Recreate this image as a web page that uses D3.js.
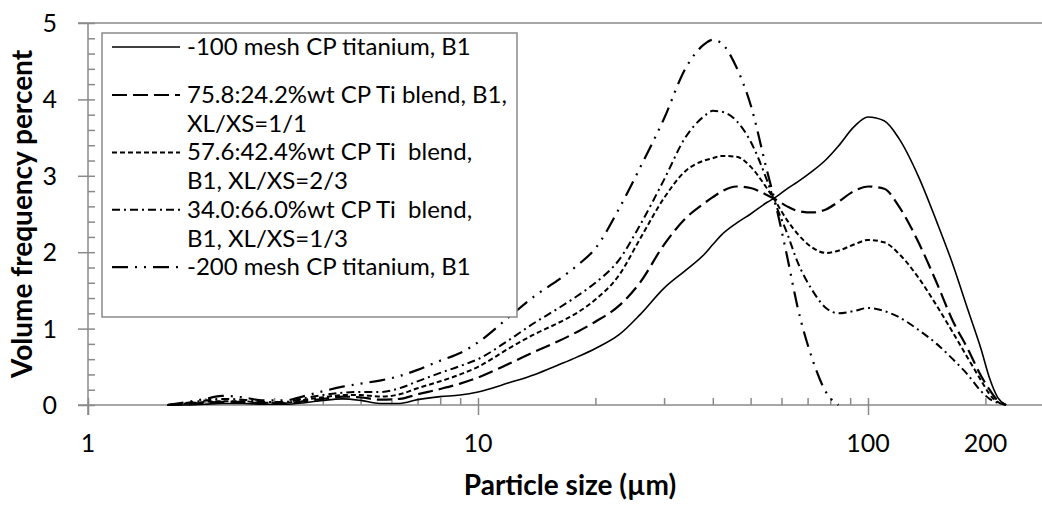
<!DOCTYPE html>
<html>
<head>
<meta charset="utf-8">
<script src="https://cdn.jsdelivr.net/npm/d3@7"></script>
<style>
  body { margin: 0; background: #fff; }
  svg { display: block; }
  text { font-family: Lato, "Open Sans", sans-serif; fill: #000; }
</style>
</head>
<body>
<svg id="chart" width="1042" height="508"></svg>
<script>
// Particle size bins (µm), shared by all distributions
const sizes = [1.6, 1.8, 2, 2.2, 2.5, 2.8, 3.2, 3.6, 4, 4.5,
  5, 5.6, 6.3, 7, 8, 9, 10, 12, 14, 16,
  18, 20, 23, 26, 30, 34, 38, 40, 42, 46,
  50, 55, 58, 62, 66, 72, 78, 84, 92, 100,
  110, 120, 135, 150, 165, 180, 195, 205, 215, 226];

// Volume frequency (%) per bin
const mesh100 = [0, 0, 0.01, 0.02, 0.02, 0.01, 0.01, 0.03, 0.06, 0.08,
  0.06, 0.02, 0.02, 0.07, 0.11, 0.13, 0.17, 0.29, 0.40, 0.52,
  0.63, 0.74, 0.92, 1.18, 1.53, 1.76, 1.97, 2.10, 2.22, 2.38,
  2.50, 2.65, 2.72, 2.83, 2.92, 3.06, 3.21, 3.39, 3.64, 3.77,
  3.72, 3.49, 2.98, 2.40, 1.84, 1.26, 0.73, 0.35, 0.10, 0];
const blend758 = [0, 0.01, 0.03, 0.04, 0.04, 0.02, 0.02, 0.05, 0.08, 0.11,
  0.10, 0.07, 0.08, 0.14, 0.21, 0.28, 0.36, 0.54, 0.70, 0.83,
  0.96, 1.09, 1.30, 1.60, 2.10, 2.44, 2.64, 2.72, 2.79, 2.86,
  2.84, 2.75, 2.69, 2.60, 2.54, 2.52, 2.56, 2.66, 2.80, 2.86,
  2.83, 2.60, 2.12, 1.60, 1.10, 0.74, 0.38, 0.20, 0.06, 0];
const blend576 = [0, 0.02, 0.04, 0.05, 0.05, 0.03, 0.03, 0.07, 0.10, 0.13,
  0.13, 0.11, 0.14, 0.22, 0.31, 0.40, 0.50, 0.74, 0.93, 1.07,
  1.21, 1.38, 1.70, 2.17, 2.71, 3.06, 3.20, 3.23, 3.26, 3.25,
  3.12, 2.84, 2.66, 2.42, 2.24, 2.06, 1.99, 2.02, 2.10, 2.16,
  2.13, 1.98, 1.66, 1.30, 0.95, 0.62, 0.32, 0.14, 0.04, 0];
const blend340 = [0, 0.03, 0.06, 0.08, 0.07, 0.04, 0.04, 0.09, 0.13, 0.16,
  0.17, 0.17, 0.22, 0.31, 0.42, 0.51, 0.60, 0.85, 1.08, 1.26,
  1.43, 1.60, 1.90, 2.35, 2.95, 3.50, 3.78, 3.85, 3.84, 3.72,
  3.45, 2.95, 2.62, 2.25, 1.87, 1.50, 1.27, 1.20, 1.23, 1.27,
  1.23, 1.15, 0.98, 0.80, 0.60, 0.40, 0.18, 0.08, 0.03, 0];
const mesh200 = [0, 0.04, 0.08, 0.12, 0.10, 0.06, 0.06, 0.12, 0.18, 0.24,
  0.28, 0.32, 0.38, 0.46, 0.58, 0.68, 0.82, 1.15, 1.43, 1.63,
  1.83, 2.05, 2.57, 3.10, 3.75, 4.40, 4.72, 4.78, 4.74, 4.42,
  3.93, 3.08, 2.62, 1.95, 1.28, 0.60, 0.17, 0, null, null,
  null, null, null, null, null, null, null, null, null, null];

// Legend text, one array of lines per series
const legendLabels = [
  ["-100 mesh CP titanium, B1"],
  ["75.8:24.2%wt CP Ti blend, B1,", "XL/XS=1/1"],
  ["57.6:42.4%wt CP Ti  blend,", "B1, XL/XS=2/3"],
  ["34.0:66.0%wt CP Ti  blend,", "B1, XL/XS=1/3"],
  ["-200 mesh CP titanium, B1"]
];

const xTickValues = [1, 10, 100, 200];
const yTickValues = [0, 1, 2, 3, 4, 5];
const xTitle = "Particle size (µm)";
const yTitle = "Volume frequency percent";

// Line styles for each series
const styles = [
  { width: 1.6, dash: null },
  { width: 2.2, dash: "15,6" },
  { width: 2.0, dash: "5,3" },
  { width: 2.0, dash: "8,4,2,4" },
  { width: 2.2, dash: "16,7,2,7,2,7" }
];
const seriesValues = [mesh100, blend758, blend576, blend340, mesh200];

(function draw() {
  const svg = d3.select("#chart");
  const W = 1042;
  const plotLeft = 88, plotTop = 23, plotBottom = 405, decade = 390;

  const x = d3.scaleLog().domain([1, 1000]).range([plotLeft, plotLeft + 3 * decade]);
  const y = d3.scaleLinear().domain([0, 5]).range([plotBottom, plotTop]);

  const axisColor = "#8a8a8a";

  // Top border of the plot area
  svg.append("line").attr("x1", plotLeft - 10).attr("x2", W).attr("y1", y(5)).attr("y2", y(5))
    .attr("stroke", axisColor).attr("stroke-width", 1.5);

  // y-axis with outer major ticks and inner minor ticks
  const yAxis = svg.append("g").attr("transform", `translate(${plotLeft},0)`)
    .call(d3.axisLeft(y).tickValues(yTickValues).tickSize(10).tickSizeOuter(0).tickFormat(""));
  const yMinor = svg.append("g").attr("transform", `translate(${plotLeft},0)`)
    .call(d3.axisRight(y).tickValues(d3.range(0, 5.001, 0.2)).tickSize(7).tickSizeOuter(0).tickFormat(""));

  // x-axis: major ticks below, minor ticks inside the plot
  const minorX = [];
  [1, 10, 100].forEach(d => { for (let k = 1; k <= 9; k++) minorX.push(d * k); });
  minorX.push(1000);
  const xAxis = svg.append("g").attr("transform", `translate(0,${plotBottom})`)
    .call(d3.axisBottom(x).tickValues([1, 10, 100]).tickSize(10).tickSizeOuter(0).tickFormat(""));
  const xMinor = svg.append("g").attr("transform", `translate(0,${plotBottom})`)
    .call(d3.axisTop(x).tickValues(minorX).tickSize(7).tickSizeOuter(0).tickFormat(""));

  [yAxis, yMinor, xAxis, xMinor].forEach(g => {
    g.selectAll("path,line").attr("stroke", axisColor).attr("stroke-width", 1.5);
  });
  xAxis.select("path").attr("d", `M${plotLeft - 10},0H${W}`);
  xMinor.select("path").remove();
  yMinor.select("path").remove();
  yAxis.select("path").attr("d", `M0,${y(5)}V${plotBottom + 10}`);

  // Tick labels
  svg.append("g").selectAll("text").data(yTickValues).join("text")
    .attr("x", 57).attr("y", d => y(d) + 9)
    .attr("text-anchor", "end").attr("font-size", 25).text(d => d);
  svg.append("g").selectAll("text").data(xTickValues).join("text")
    .attr("x", d => x(d)).attr("y", 452)
    .attr("text-anchor", "middle").attr("font-size", 25).text(d => d);

  // Axis titles
  svg.append("text").attr("x", 570).attr("y", 495).attr("text-anchor", "middle")
    .attr("font-size", 28).attr("font-weight", "bold").text(xTitle);
  svg.append("text").attr("transform", `translate(32,214) rotate(-90)`)
    .attr("text-anchor", "middle").attr("font-size", 28).attr("font-weight", "bold").text(yTitle);

  // Distribution curves
  const line = d3.line()
    .defined(d => d[1] !== null)
    .x(d => x(d[0])).y(d => y(d[1]))
    .curve(d3.curveMonotoneX);

  svg.append("g").selectAll("path").data(seriesValues).join("path")
    .attr("d", vals => line(sizes.map((s, i) => [s, vals[i]])))
    .attr("fill", "none").attr("stroke", "#000")
    .attr("stroke-width", (d, i) => styles[i].width)
    .attr("stroke-dasharray", (d, i) => styles[i].dash)
    .attr("stroke-linejoin", "round");

  // Legend: each entry's key sits on its first text line
  const legend = svg.append("g");
  legend.append("rect").attr("x", 102).attr("y", 33).attr("width", 415).attr("height", 284)
    .attr("fill", "#fff").attr("stroke", axisColor).attr("stroke-width", 1.5);
  const firstRow = 47, entryGap = 48, rowPitch = 28.7;
  let row = 0;
  legendLabels.forEach((lines, i) => {
    const cy = i === 0 ? firstRow : firstRow + entryGap + (row - 1) * rowPitch;
    legend.append("line").attr("x1", 112).attr("x2", 180)
      .attr("y1", cy).attr("y2", cy)
      .attr("stroke", "#000").attr("stroke-width", styles[i].width)
      .attr("stroke-dasharray", styles[i].dash);
    lines.forEach((t, j) => {
      legend.append("text").attr("x", 187).attr("y", cy + 8 + j * rowPitch)
        .attr("font-size", 24).style("white-space", "pre").text(t);
    });
    row += lines.length;
  });
})();
</script>
</body>
</html>
